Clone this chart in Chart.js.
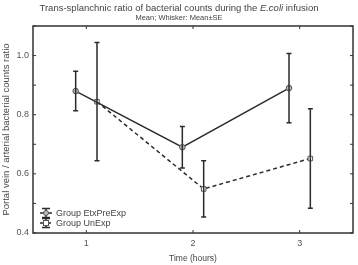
<!DOCTYPE html>
<html>
<head>
<meta charset="utf-8">
<script src="https://cdn.jsdelivr.net/npm/chart.js@4/dist/chart.umd.min.js"></script>
<style>
  html, body { margin: 0; padding: 0; background: #fff; }
  #wrap { position: relative; width: 358px; height: 265px; }
  #title, #subtitle {
    position: absolute; left: 0; width: 358px; text-align: center;
    font-family: "Liberation Sans", Arial, sans-serif; color: #444; white-space: nowrap;
  }
  #title { top: 2px; font-size: 9.5px; }
  #subtitle { top: 13px; font-size: 7.5px; }
</style>
</head>
<body>
<div id="wrap">
  <canvas id="chart" width="358" height="265"></canvas>
  <div id="title">Trans-splanchnic ratio of bacterial counts during the <i>E.coli</i> infusion</div>
  <div id="subtitle">Mean; Whisker: Mean&plusmn;SE</div>
</div>
<script>
// Дані графіка
const times = [1, 2, 3];
const etxMean = [0.88, 0.69, 0.89];
const etxSE = [0.067, 0.07, 0.117];
const unMean = [0.844, 0.549, 0.652];
const unSE = [0.2, 0.095, 0.168];
const yTickValues = [0.4, 0.5, 0.6, 0.7, 0.8, 0.9, 1.0, 1.1];
const yTickLabels = ['0.4', '', '0.6', '', '0.8', '', '1.0', ''];
const xTickLabels = ['1', '2', '3'];

const JITTER = 0.1;
const INK = '#2b2b2b';
const FONT = '"Liberation Sans", Arial, sans-serif';

function points(means, shift) {
  return times.map((t, i) => ({ x: t + shift, y: means[i] }));
}

// Вуса похибок, рамка, засічки та легенда
const extrasPlugin = {
  id: 'extras',
  afterDatasetsDraw(chart) {
    const ctx = chart.ctx;
    const xs = chart.scales.x;
    const ys = chart.scales.y;
    const a = chart.chartArea;

    ctx.save();
    ctx.strokeStyle = INK;
    ctx.lineWidth = 1.5;
    ctx.setLineDash([]);
    chart.data.datasets.forEach(ds => {
      ds.data.forEach((p, i) => {
        const px = xs.getPixelForValue(p.x);
        const top = ys.getPixelForValue(p.y + ds.se[i]);
        const bot = ys.getPixelForValue(p.y - ds.se[i]);
        ctx.beginPath();
        ctx.moveTo(px, top); ctx.lineTo(px, bot);
        ctx.moveTo(px - 2.5, top); ctx.lineTo(px + 2.5, top);
        ctx.moveTo(px - 2.5, bot); ctx.lineTo(px + 2.5, bot);
        ctx.stroke();
      });
    });

    // рамка
    ctx.strokeStyle = '#333';
    ctx.lineWidth = 1.5;
    ctx.strokeRect(a.left, a.top, a.right - a.left, a.bottom - a.top);

    // засічки всередину
    ctx.lineWidth = 1;
    ctx.beginPath();
    times.forEach(t => {
      const px = xs.getPixelForValue(t);
      ctx.moveTo(px, a.bottom); ctx.lineTo(px, a.bottom - 3);
      ctx.moveTo(px, a.top); ctx.lineTo(px, a.top + 3);
    });
    yTickValues.forEach(v => {
      const py = ys.getPixelForValue(v);
      ctx.moveTo(a.left, py); ctx.lineTo(a.left + 3, py);
      ctx.moveTo(a.right, py); ctx.lineTo(a.right - 3, py);
    });
    ctx.stroke();

    // легенда
    chart.data.datasets.forEach((ds, k) => {
      const cx = a.left + 13;
      const cy = a.bottom - 20 + k * 10;
      ctx.strokeStyle = INK;
      ctx.lineWidth = 1.5;
      ctx.setLineDash([]);
      ctx.beginPath();
      ctx.moveTo(cx, cy - 4.5); ctx.lineTo(cx, cy + 4.5);
      ctx.moveTo(cx - 4, cy - 4.5); ctx.lineTo(cx + 4, cy - 4.5);
      ctx.moveTo(cx - 4, cy + 4.5); ctx.lineTo(cx + 4, cy + 4.5);
      ctx.stroke();
      ctx.setLineDash(ds.borderDash || []);
      ctx.beginPath();
      ctx.moveTo(cx - 6, cy); ctx.lineTo(cx + 6, cy);
      ctx.stroke();
      ctx.setLineDash([]);
      ctx.fillStyle = ds.pointBackgroundColor;
      ctx.strokeStyle = '#555';
      ctx.lineWidth = 1;
      if (ds.pointStyle === 'rect') {
        ctx.fillRect(cx - 2.5, cy - 2.5, 5, 5);
        ctx.strokeRect(cx - 2.5, cy - 2.5, 5, 5);
      } else {
        ctx.beginPath();
        ctx.arc(cx, cy, 2.5, 0, Math.PI * 2);
        ctx.fill(); ctx.stroke();
      }
      ctx.fillStyle = '#444';
      ctx.font = '9px ' + FONT;
      ctx.textBaseline = 'middle';
      ctx.textAlign = 'left';
      ctx.fillText(ds.label, cx + 10, cy + 0.5);
    });
    ctx.restore();
  }
};

function initChart() {
  const ctx = document.getElementById('chart').getContext('2d');

  const data = {
    datasets: [{
      label: 'Group EtxPreExp',
      data: points(etxMean, -JITTER),
      se: etxSE,
      borderColor: INK,
      borderWidth: 1.5,
      pointStyle: 'circle',
      pointRadius: 2.8,
      pointBackgroundColor: '#bbb',
      pointBorderColor: '#555',
      pointBorderWidth: 1
    }, {
      label: 'Group UnExp',
      data: points(unMean, JITTER),
      se: unSE,
      borderColor: INK,
      borderWidth: 1.5,
      borderDash: [4, 3],
      pointStyle: 'rect',
      pointRadius: 3.2,
      pointBackgroundColor: '#fff',
      pointBorderColor: '#555',
      pointBorderWidth: 1
    }]
  };

  const config = {
    type: 'line',
    data: data,
    options: {
      responsive: false,
      animation: false,
      layout: { padding: { top: 26, right: 3, left: 0, bottom: 0 } },
      plugins: { legend: { display: false }, tooltip: { enabled: false } },
      scales: {
        x: {
          type: 'linear',
          min: 0.5,
          max: 3.5,
          afterBuildTicks: s => { s.ticks = times.map(v => ({ value: v })); },
          afterFit: s => { s.height = 32; },
          grid: { display: false, drawTicks: false },
          border: { display: false },
          ticks: {
            padding: 5,
            color: '#555',
            font: { family: FONT, size: 9 },
            callback: (v, i) => xTickLabels[i]
          },
          title: {
            display: true,
            text: 'Time (hours)',
            color: '#444',
            font: { family: FONT, size: 8.5 },
            padding: { top: 0, bottom: 1 }
          }
        },
        y: {
          min: 0.4,
          max: 1.1,
          afterBuildTicks: s => { s.ticks = yTickValues.map(v => ({ value: v })); },
          afterFit: s => { s.width = 33; },
          grid: { display: false, drawTicks: false },
          border: { display: false },
          ticks: {
            padding: 4,
            color: '#555',
            font: { family: FONT, size: 9 },
            callback: (v, i) => yTickLabels[i]
          },
          title: {
            display: true,
            text: 'Portal vein / arterial bacterial counts ratio',
            color: '#444',
            font: { family: FONT, size: 9.5 },
            padding: { top: 1, bottom: 0 }
          }
        }
      }
    },
    plugins: [extrasPlugin]
  };

  new Chart(ctx, config);
}

document.addEventListener('DOMContentLoaded', initChart);
</script>
</body>
</html>
